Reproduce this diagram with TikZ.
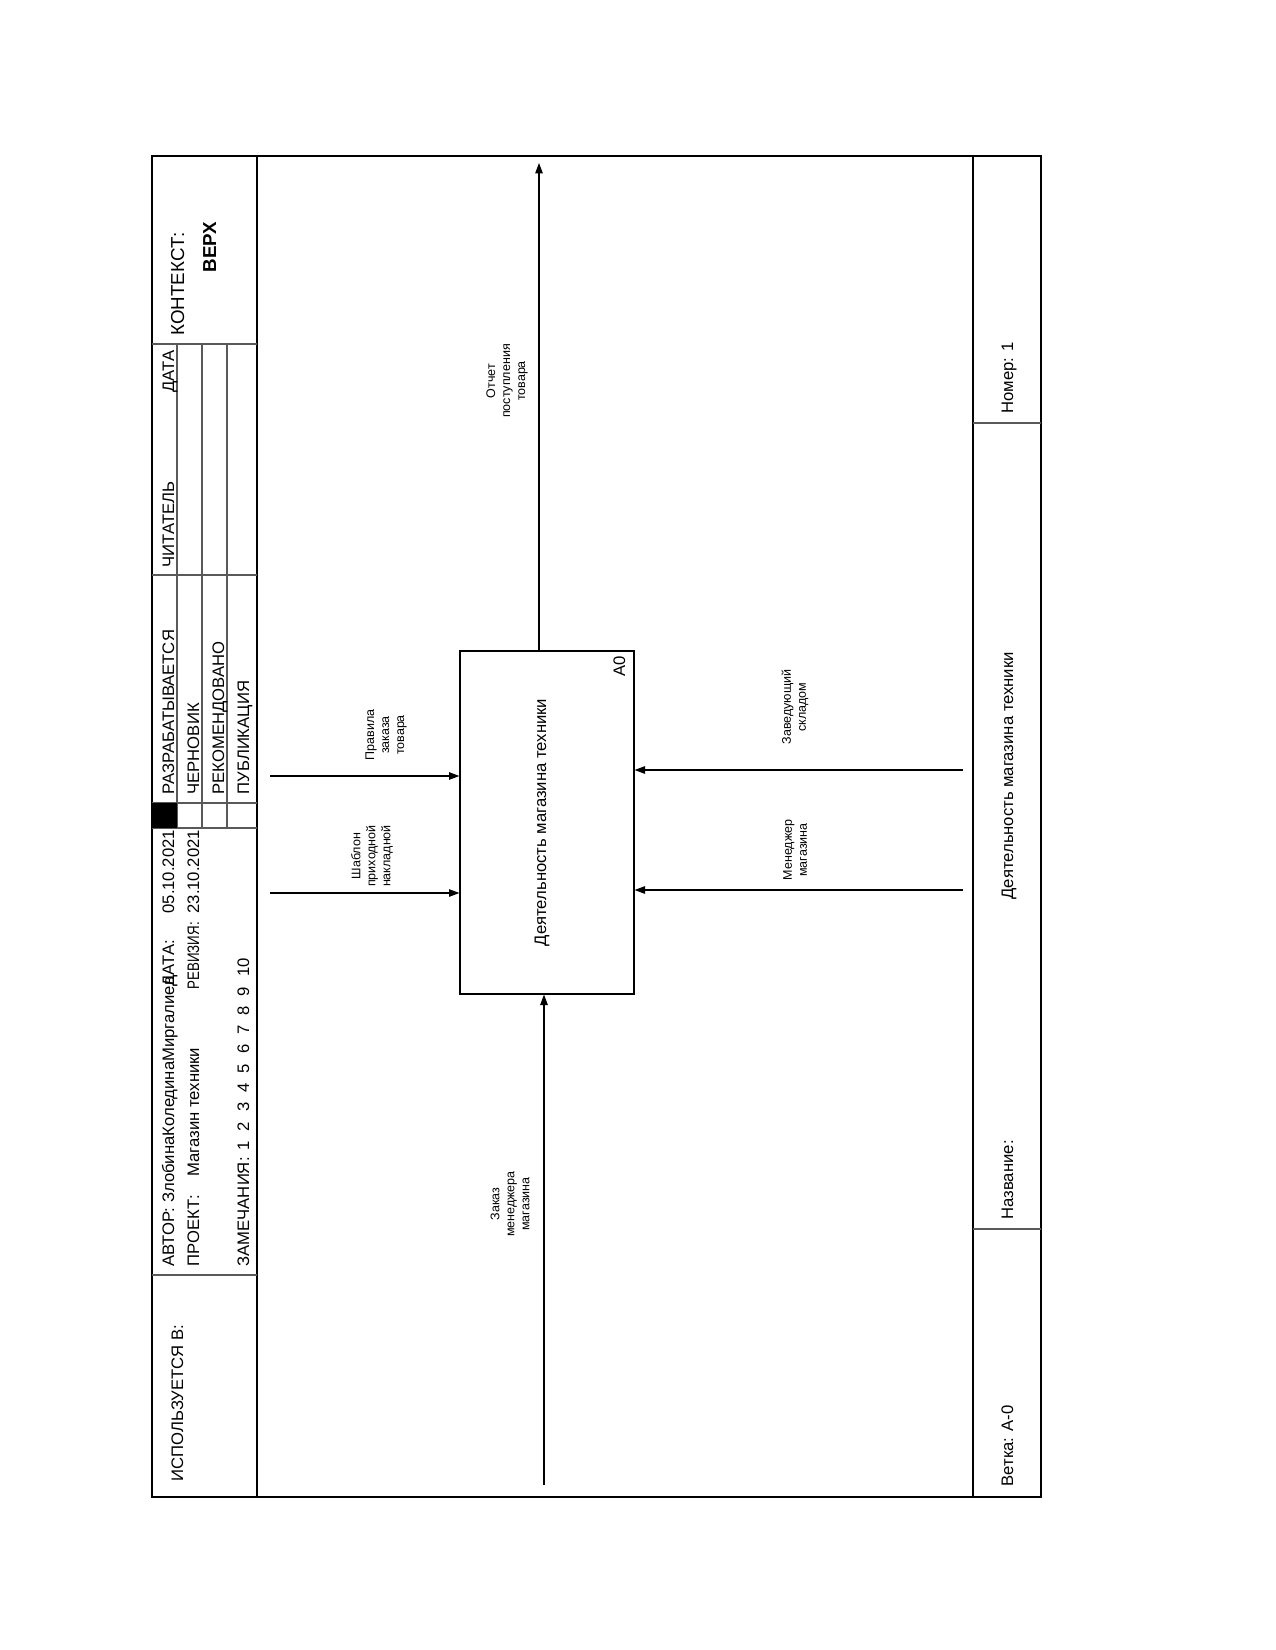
\documentclass[tikz,border=0pt]{standalone}
\usepackage{fontspec}
\setmainfont{Liberation Sans}
\usetikzlibrary{arrows.meta}

\tikzset{
  headtext/.style={rotate=90,anchor=base west,inner sep=0pt,
    font=\fontsize{8pt}{9.6pt}\selectfont},
  arrowlabel/.style={rotate=90,align=center,inner sep=0pt,
    font=\fontsize{6pt}{7.2pt}\selectfont},
  flow/.style={-{Triangle[length=5pt,width=3.6pt]}},
  cellline/.style={black!65}
}

\begin{document}
\begin{tikzpicture}[x=0.48pt,y=-0.48pt,line width=0.55pt]
  \useasboundingbox (0,0) rectangle (1275,1650);
  % frame
  \draw (152,156) rectangle (1041,1497);
  \draw (257,156) -- (257,1497);
  \draw (973,156) -- (973,1497);
  % header cells
  \draw[cellline] (152,344) -- (257,344);
  \draw[cellline] (152,575) -- (257,575);
  \draw[cellline] (152,803) -- (257,803);
  \draw[cellline] (152,828) -- (257,828);
  \draw[cellline] (152,1275) -- (257,1275);
  \foreach \x in {177,202,227} \draw[cellline] (\x,344) -- (\x,828);
  \fill (152,803) rectangle (177,828);
  % footer cells
  \draw[cellline] (973,423) -- (1041,423);
  \draw[cellline] (973,1229) -- (1041,1229);

  % header texts
  \node[headtext,font=\fontsize{9pt}{10.8pt}\selectfont] (ctx) at (184,336) {КОНТЕКСТ:};
  \node[headtext,font=\fontsize{9pt}{10.8pt}\bfseries] (top) at (216,273) {ВЕРХ};
  \node[headtext] (rdate) at (174,393) {ДАТА};
  \node[headtext] (reader) at (174,568) {ЧИТАТЕЛЬ};
  \node[headtext] (st1) at (174,795) {РАЗРАБАТЫВАЕТСЯ};
  \node[headtext] (st2) at (199,795) {ЧЕРНОВИК};
  \node[headtext] (st3) at (224,795) {РЕКОМЕНДОВАНО};
  \node[headtext] (st4) at (249,795) {ПУБЛИКАЦИЯ};
  \node[headtext] (author) at (174,1267) {АВТОР: ЗлобинаКолединаМиргалиев};
  \node[headtext] (date) at (174,987) {ДАТА:};
  \node[headtext] (dateval) at (174,914) {05.10.2021};
  \node[headtext] (project) at (199,1267) {ПРОЕКТ:};
  \node[headtext] (projname) at (199,1177) {Магазин техники};
  \node[headtext] (rev) at (199,990) {\scalebox{0.8}[1]{РЕВИЗИЯ:}};
  \node[headtext] (revval) at (199,914) {23.10.2021};
  \node[headtext] (notes) at (249,1267) {ЗАМЕЧАНИЯ:};
  \foreach \i in {1,...,10}
    \node[headtext] (n\i) at (249,{1151-19.3*(\i-1)}) {\i};
  \node[headtext] (used) at (183,1482) {ИСПОЛЬЗУЕТСЯ В:};

  % footer texts
  \node[headtext] (number) at (1013,414) {Номер: 1};
  \node[headtext] (title) at (1013,1220) {Название:};
  \node[headtext] (titleval) at (1013,900) {Деятельность магазина техники};
  \node[headtext] (branch) at (1013,1487) {Ветка: А-0};

  % activity box
  \node[draw,minimum width=83.52pt,minimum height=164.64pt,inner sep=0pt] (box) at (547,822.5) {};
  \node[rotate=90,font=\fontsize{8pt}{9.6pt}\selectfont] (boxname) at (542,822.5) {Деятельность магазина техники};
  \node[headtext] (boxid) at (625,677) {А0};

  % arrows
  \coordinate (ctrl1) at (270,776);
  \coordinate (ctrl2) at (270,893);
  \coordinate (mech1) at (963,770);
  \coordinate (mech2) at (963,890);
  \coordinate (call) at (544,1485);
  \coordinate (outp) at (539,163);
  \draw[flow] (ctrl1) -- (ctrl1 -| box.west);
  \draw[flow] (ctrl2) -- (ctrl2 -| box.west);
  \draw[flow] (mech1) -- (mech1 -| box.east);
  \draw[flow] (mech2) -- (mech2 -| box.east);
  \draw[flow] (call) -- (call |- box.south);
  \draw[flow] (outp |- box.north) -- (outp);

  % arrow labels
  \node[arrowlabel] (lctrl1) at (386,735) {Правила\\заказа\\товара};
  \node[arrowlabel] (lctrl2) at (372,856) {Шаблон\\приходной\\накладной};
  \node[arrowlabel] (lmech1) at (795,707) {Заведующий\\складом};
  \node[arrowlabel] (lmech2) at (795,850) {Менеджер\\магазина};
  \node[arrowlabel] (lcall) at (510,1204) {Заказ\\менеджера\\магазина};
  \node[arrowlabel] (loutp) at (507,381) {Отчет\\поступления\\товара};
\end{tikzpicture}
\end{document}
